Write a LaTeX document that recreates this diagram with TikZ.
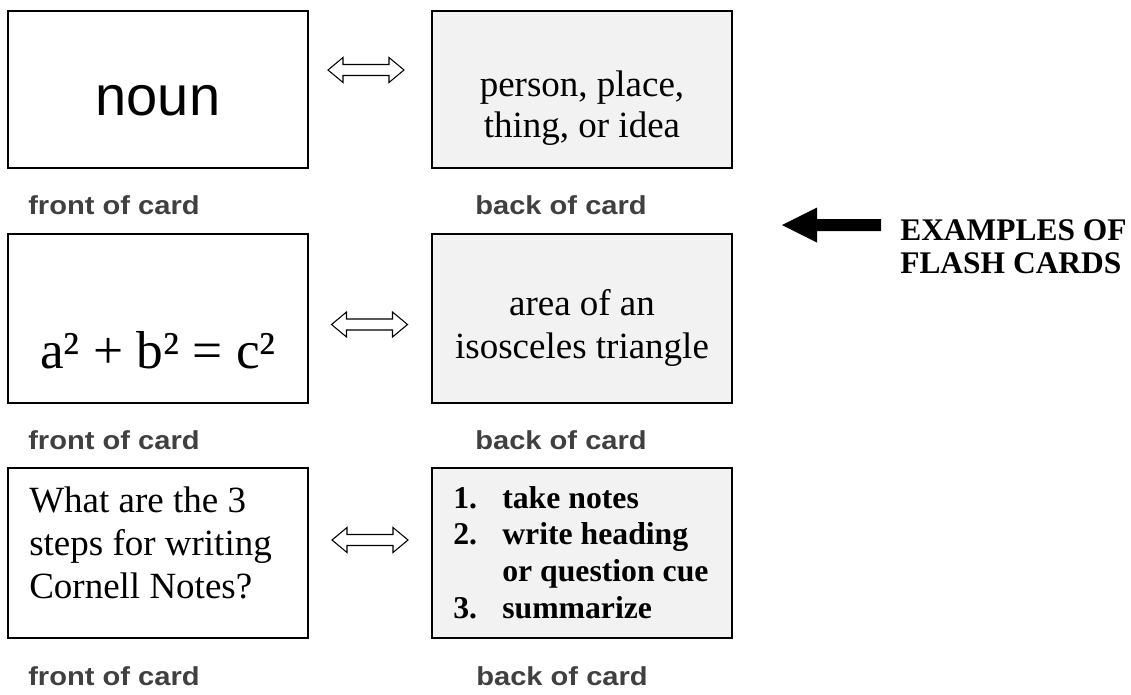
\documentclass[tikz,border=0pt]{standalone}
\usepackage{fontspec}
\usepackage{graphicx}
\setmainfont{Liberation Serif}
\newfontfamily\arialfont{Liberation Sans}
\usetikzlibrary{fit}
\definecolor{cardgray}{RGB}{242,242,242}
\definecolor{labelgray}{RGB}{64,64,64}
\begin{document}
\begin{tikzpicture}[x=0.75pt,y=-0.75pt,
  card/.style={draw=black, line width=1.4pt, inner sep=0pt, fill=white},
  backcard/.style={card, fill=cardgray},
  lbl/.style={anchor=base west, inner sep=0pt, text=labelgray, font=\arialfont\bfseries\fontsize{19.5pt}{22pt}\selectfont},
  cardtext/.style={inner sep=0pt, font=\fontsize{27.75pt}{30.75pt}\selectfont},
  dblarrow/.style={draw=black, line width=0.8pt, fill=white, line join=miter}
]
\useasboundingbox (0,0) rectangle (1131,694);

% cards
\node[card, fit={(8,11) (308,168)}] (fa) {};
\node[backcard, fit={(432,11) (732,168)}] (ba) {};
\node[card, fit={(8,234) (308,403)}] (fb) {};
\node[backcard, fit={(432,234) (732,403)}] (bb) {};
\node[card, fit={(8,468) (308,638)}] (fc) {};
\node[backcard, fit={(432,468) (732,638)}] (bc) {};

% card texts (base anchor = baseline of last line)
\node[inner sep=0pt, anchor=base, font=\arialfont\fontsize{42pt}{46pt}\selectfont] (ta) at (158,115) {noun};
\node[cardtext, anchor=base, align=center] (tba) at (582,137) {person, place,\\thing, or idea};
\node[inner sep=0pt, anchor=base, font=\fontsize{40pt}{44pt}\selectfont] (tb) at (158,368) {a² + b² = c²};
\node[cardtext, anchor=base, align=center, font=\fontsize{27.75pt}{32pt}\selectfont] (tbb) at (582,358) {area of an\\isosceles triangle};
\node[cardtext, anchor=base west, align=left, font=\fontsize{27.75pt}{32pt}\selectfont] (tc) at (29,598) {What are the 3\\steps for writing\\Cornell Notes?};
\node[inner sep=0pt, anchor=base west, align=left, font=\bfseries\fontsize{23.8pt}{27.5pt}\selectfont] (tbc) at (453,618)
  {\makebox[36.75pt][l]{1.}take notes\\
   \makebox[36.75pt][l]{2.}write heading\\
   \hspace*{36.75pt}or question cue\\
   \makebox[36.75pt][l]{3.}summarize};

% labels
\node[lbl] (la1) at (28,214) {\scalebox{1.12}[1]{front of card}};
\node[lbl] (lb1) at (475,214) {\scalebox{1.12}[1]{back of card}};
\node[lbl] (la2) at (28,449) {\scalebox{1.12}[1]{front of card}};
\node[lbl] (lb2) at (475,449) {\scalebox{1.12}[1]{back of card}};
\node[lbl] (la3) at (28,685) {\scalebox{1.12}[1]{front of card}};
\node[lbl] (lb3) at (476,685) {\scalebox{1.12}[1]{back of card}};

% double arrows
\foreach \cx/\cy in {366/70, 369.5/324.5, 370/540}{
  \draw[dblarrow] (\cx-38,\cy) -- (\cx-23,\cy-12.5) -- (\cx-23,\cy-5.5) -- (\cx+23,\cy-5.5)
    -- (\cx+23,\cy-12.5) -- (\cx+38,\cy) -- (\cx+23,\cy+12.5) -- (\cx+23,\cy+5.5)
    -- (\cx-23,\cy+5.5) -- (\cx-23,\cy+12.5) -- cycle;
}

% title and big arrow
\node[inner sep=0pt, anchor=base west, align=left, font=\bfseries\fontsize{23.6pt}{24.5pt}\selectfont] (title) at (900,273) {EXAMPLES OF\\FLASH CARDS};
\fill[black] (782,225) -- (817,207.5) -- (817,219) -- (881,219) -- (881,231) -- (817,231) -- (817,242.5) -- cycle;
\end{tikzpicture}
\end{document}
